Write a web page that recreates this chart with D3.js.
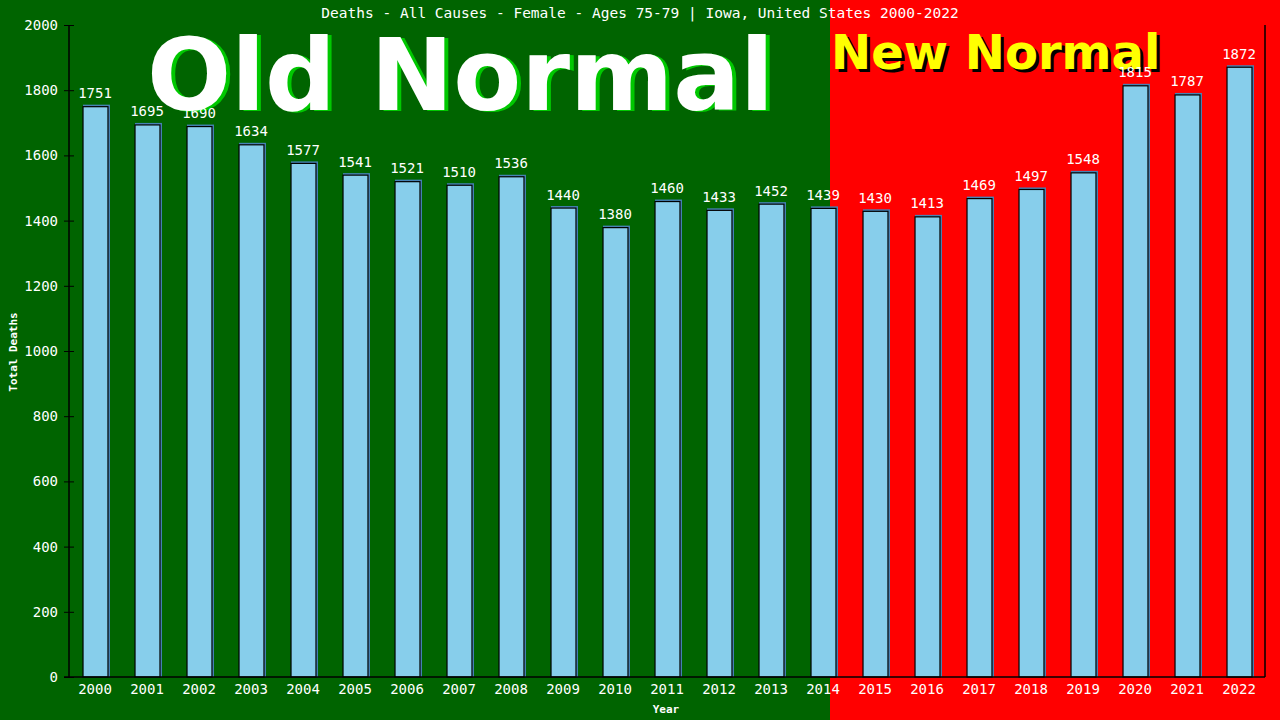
<!DOCTYPE html>
<html>
<head>
<meta charset="utf-8">
<script src="https://cdn.jsdelivr.net/npm/d3@7"></script>
<style>
  body { margin: 0; background: #006400; }
  svg { display: block; }
  .mono { font-family: "DejaVu Sans Mono", "Liberation Mono", monospace; fill: #fff; }
</style>
</head>
<body>
<svg id="chart" width="1280" height="720"></svg>
<script>
const years = ["2000","2001","2002","2003","2004","2005","2006","2007","2008","2009","2010","2011",
  "2012","2013","2014","2015","2016","2017","2018","2019","2020","2021","2022"];
const deaths = [1751,1695,1690,1634,1577,1541,1521,1510,1536,1440,1380,1460,
  1433,1452,1439,1430,1413,1469,1497,1548,1815,1787,1872];
const yTicks = [0,200,400,600,800,1000,1200,1400,1600,1800,2000];

const data = years.map((y, i) => ({ year: y, value: deaths[i] }));

const svg = d3.select("#chart");
const W = 1280, H = 720;
const plotLeft = 69, plotRight = 1265, plotTop = 25, plotBottom = 677;

// backgrounds: old normal (green) and new normal (red)
svg.append("rect").attr("x", 0).attr("y", 0).attr("width", W).attr("height", H).attr("fill", "#006400");
svg.append("rect").attr("x", 830).attr("y", 0).attr("width", W - 830).attr("height", H).attr("fill", "#ff0000");

// big labels
const bigG = svg.append("g").attr("font-family", "DejaVu Sans, Verdana, sans-serif").attr("font-weight", "bold");
bigG.append("text").attr("x", 151).attr("y", 111).attr("font-size", 99).attr("fill", "#00c800").text("Old Normal");
bigG.append("text").attr("x", 147).attr("y", 110).attr("font-size", 99).attr("fill", "#ffffff").text("Old Normal");
bigG.append("text").attr("x", 834).attr("y", 72).attr("font-size", 48).attr("fill", "#000").text("New Normal");
bigG.append("text").attr("x", 831).attr("y", 69).attr("font-size", 48).attr("fill", "#ffff00").text("New Normal");

const x = d3.scaleBand().domain(years).range([plotLeft, plotRight]).paddingInner(0.52).paddingOuter(0.26);
const y = d3.scaleLinear().domain([0, 2000]).range([plotBottom, plotTop]);

// title
svg.append("text").attr("class", "mono").attr("x", 640).attr("y", 18)
  .attr("text-anchor", "middle").attr("font-size", 14.5)
  .text("Deaths - All Causes - Female - Ages 75-79 | Iowa, United States 2000-2022");

// bars
const bars = svg.append("g");
bars.selectAll(".shadow").data(data).enter().append("rect")
  .attr("x", d => x(d.year) + 0.5)
  .attr("y", d => y(d.value) - 1.5)
  .attr("width", x.bandwidth() + 2)
  .attr("height", d => plotBottom - y(d.value) + 1.5)
  .attr("fill", "#4682b4");
bars.selectAll(".bar").data(data).enter().append("rect")
  .attr("x", d => x(d.year) + 0.5)
  .attr("y", d => y(d.value) + 0.5)
  .attr("width", x.bandwidth())
  .attr("height", d => plotBottom - y(d.value) - 0.5)
  .attr("fill", "#87ceeb")
  .attr("stroke", "#000")
  .attr("stroke-width", 1.2);

// value labels
svg.append("g").selectAll("text").data(data).enter().append("text")
  .attr("class", "mono")
  .attr("x", d => x(d.year) + x.bandwidth() / 2)
  .attr("y", d => y(d.value) - 8)
  .attr("text-anchor", "middle")
  .attr("font-size", 14)
  .text(d => d.value);

// axes
const yAxis = svg.append("g").attr("transform", `translate(${plotLeft},0)`)
  .call(d3.axisLeft(y).tickValues(yTicks).tickSize(5).tickPadding(6).tickFormat(d3.format("d")));
yAxis.select(".domain").remove();
yAxis.selectAll(".tick line").attr("x1", -5).attr("x2", 5).attr("stroke", "#000");
yAxis.selectAll("text").attr("class", "mono").attr("font-size", 14).attr("fill", "#fff")
  .attr("x", -11);

const xAxis = svg.append("g").attr("transform", `translate(0,${plotBottom})`)
  .call(d3.axisBottom(x).tickSize(0).tickPadding(6));
xAxis.select(".domain").remove();
xAxis.selectAll("text").attr("class", "mono").attr("font-size", 14).attr("fill", "#fff").attr("dy", "0.75em");

svg.append("line").attr("x1", plotLeft).attr("x2", plotLeft).attr("y1", plotTop).attr("y2", plotBottom).attr("stroke", "#000").attr("stroke-width", 1.5);
svg.append("line").attr("x1", plotRight).attr("x2", plotRight).attr("y1", plotTop).attr("y2", plotBottom).attr("stroke", "#000").attr("stroke-width", 1.5);
svg.append("line").attr("x1", plotLeft - 5).attr("x2", plotRight).attr("y1", plotBottom).attr("y2", plotBottom).attr("stroke", "#000").attr("stroke-width", 1.5);

// axis titles
svg.append("text").attr("class", "mono").attr("x", 666).attr("y", 713)
  .attr("text-anchor", "middle").attr("font-size", 11).attr("font-weight", "bold").text("Year");
svg.append("text").attr("class", "mono")
  .attr("transform", "translate(17,352) rotate(-90)")
  .attr("text-anchor", "middle").attr("font-size", 11).attr("font-weight", "bold").text("Total Deaths");
</script>
</body>
</html>
